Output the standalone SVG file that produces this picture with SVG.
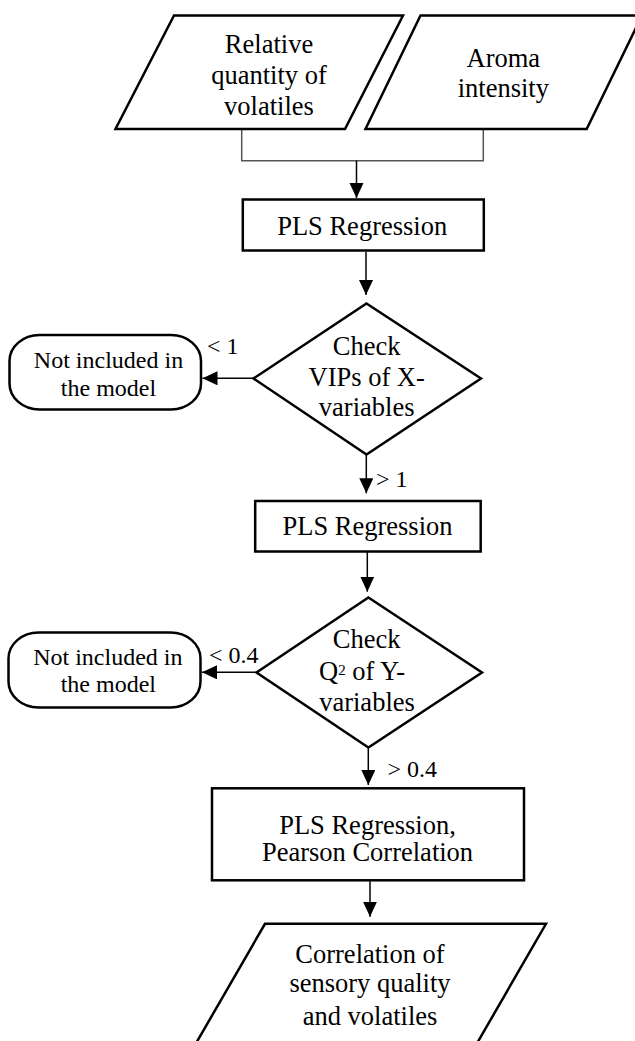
<svg xmlns="http://www.w3.org/2000/svg" width="635" height="1041" viewBox="0 0 635 1041">
  <style>
    .shape { fill: #ffffff; stroke: #000000; stroke-width: 2.5; stroke-linejoin: miter; }
    text { font-family: "Liberation Serif", "DejaVu Serif", "Times New Roman", serif; fill: #000000; }
    .lbl { font-size: 26.5px; text-anchor: middle; }
    .small { font-size: 24px; text-anchor: middle; }
    .cond { font-size: 24px; }
    .wire { fill: none; stroke: #000000; stroke-width: 1.5; }
    .join { fill: none; stroke: #555555; stroke-width: 1.5; }
  </style>
  <defs>
    <marker id="head" markerUnits="userSpaceOnUse" markerWidth="16" markerHeight="15" refX="15" refY="7" orient="auto">
      <path d="M0,0 L15,7 L0,14 Z" fill="#000000"/>
    </marker>
  </defs>

  <rect width="635" height="1041" fill="#ffffff"/>

  <!-- connectors -->
  <g id="connectors">
    <path class="join" d="M241.7,129 V160.7 H483.3 V129"/>
    <path class="wire" d="M356.5,160.7 V198" marker-end="url(#head)"/>
    <path class="wire" d="M366,251.7 V295" marker-end="url(#head)"/>
    <path class="wire" d="M253.5,378.3 H202.5" marker-end="url(#head)"/>
    <path class="wire" d="M366.3,455 V493.3" marker-end="url(#head)"/>
    <path class="wire" d="M367.3,552 V591.7" marker-end="url(#head)"/>
    <path class="wire" d="M256.5,672.3 H202" marker-end="url(#head)"/>
    <path class="wire" d="M368.3,748 V785" marker-end="url(#head)"/>
    <path class="wire" d="M370,881.3 V916.7" marker-end="url(#head)"/>
  </g>

  <!-- input: relative quantity of volatiles -->
  <g id="in-volatiles">
    <polygon class="shape" points="174,15.5 403,15.5 345,129 115.5,129"/>
    <text class="lbl" font-family="Liberation Serif, DejaVu Serif, serif" x="269" y="52.7">Relative</text>
    <text class="lbl" font-family="Liberation Serif, DejaVu Serif, serif" x="269" y="83.5">quantity of</text>
    <text class="lbl" font-family="Liberation Serif, DejaVu Serif, serif" x="269" y="115">volatiles</text>
  </g>

  <!-- input: aroma intensity -->
  <g id="in-aroma">
    <polygon class="shape" points="420.5,15.5 642,15.5 586.7,129 365.5,129"/>
    <text class="lbl" x="503.3" y="66.7">Aroma</text>
    <text class="lbl" x="503.3" y="96.7">intensity</text>
  </g>

  <!-- first regression -->
  <g id="pls-1">
    <rect class="shape" x="242.8" y="199.5" width="241" height="51"/>
    <text class="lbl" x="362.2" y="235">PLS Regression</text>
  </g>

  <!-- VIP check -->
  <g id="check-vip">
    <polygon class="shape" points="366.5,303.5 481,378.5 366.5,454.5 253.5,378.5"/>
    <text class="lbl" x="366.7" y="355">Check</text>
    <text class="lbl" x="366.7" y="385.5">VIPs of X-</text>
    <text class="lbl" x="366.7" y="416">variables</text>
  </g>

  <!-- excluded (VIP) -->
  <g id="out-vip">
    <rect class="shape" x="9.5" y="335" width="191.5" height="74.5" rx="30" ry="26"/>
    <text class="small" x="108.5" y="368.3">Not included in</text>
    <text class="small" x="108.5" y="396">the model</text>
  </g>
  <text class="cond" x="207" y="354.3">&lt; 1</text>
  <text class="cond" x="376" y="486.7">&gt; 1</text>

  <!-- second regression -->
  <g id="pls-2">
    <rect class="shape" x="255.2" y="501" width="225.5" height="50.5"/>
    <text class="lbl" x="367.5" y="535">PLS Regression</text>
  </g>

  <!-- Q2 check -->
  <g id="check-q2">
    <polygon class="shape" points="368.4,597.5 482,672.5 368.4,747.5 256.5,672.5"/>
    <text class="lbl" x="366.7" y="648.3">Check</text>
    <text class="lbl" x="362" y="680">Q<tspan font-size="15" dy="-5.5">2</tspan><tspan dy="5.5"> of Y-</tspan></text>
    <text class="lbl" x="367" y="710.7">variables</text>
  </g>

  <!-- excluded (Q2) -->
  <g id="out-q2">
    <rect class="shape" x="8.5" y="632.5" width="192" height="75" rx="30" ry="26"/>
    <text class="small" x="107.8" y="665">Not included in</text>
    <text class="small" x="108.3" y="692">the model</text>
  </g>
  <text class="cond" x="209" y="663.3">&lt; 0.4</text>
  <text class="cond" x="387.5" y="776.7">&gt; 0.4</text>

  <!-- final analysis -->
  <g id="pls-pearson">
    <rect class="shape" x="212" y="788.3" width="312" height="92"/>
    <text class="lbl" x="367.5" y="834">PLS Regression,</text>
    <text class="lbl" x="367.5" y="861">Pearson Correlation</text>
  </g>

  <!-- output -->
  <g id="out-correlation">
    <polygon class="shape" points="265,923.8 546,923.8 476.6,1044 195.6,1044"/>
    <text class="lbl" x="370" y="963">Correlation of</text>
    <text class="lbl" x="370" y="992">sensory quality</text>
    <text class="lbl" x="370" y="1025">and volatiles</text>
  </g>
</svg>
